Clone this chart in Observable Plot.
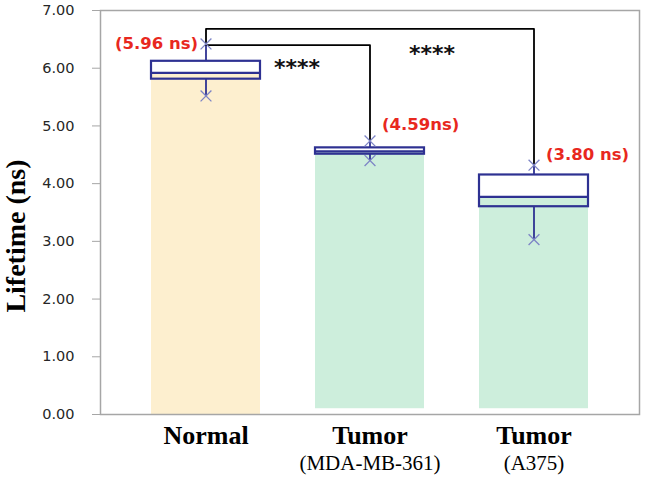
<!DOCTYPE html>
<html><head><meta charset="utf-8">
<script src="https://cdn.jsdelivr.net/npm/d3@7"></script>
<script src="https://cdn.jsdelivr.net/npm/@observablehq/plot@0.6"></script>
<style>body{margin:0;background:#fff} #chart{width:645px;height:481px}</style>
</head><body><div id="chart"></div>
<script>
const categories = ["Normal", "Tumor (MDA-MB-361)", "Tumor (A375)"];
const mainLabels = ["Normal", "Tumor", "Tumor"];
const subLabels = ["", "(MDA-MB-361)", "(A375)"];
const means = [5.96, 4.59, 3.80];
const meanLabels = ["(5.96 ns)", "(4.59ns)", "(3.80 ns)"];
const barBase = [0, 0.1, 0.1];
const q1 = [5.81, 4.51, 3.60];
const medians = [5.92, 4.56, 3.77];
const q3 = [6.12, 4.62, 4.15];
const whiskerMin = [5.52, 4.40, 3.03];
const whiskerMax = [6.42, 4.74, 4.32];
const barColors = ["#fdefcf", "#cdeedc", "#cdeedc"];
const yTicks = [0, 1, 2, 3, 4, 5, 6, 7];
const comparisons = [
  {from: 0, to: 1, level: 6.40, sig: "****"},
  {from: 0, to: 2, level: 6.68, sig: "****"}
];

const rows = categories.map((c, i) => ({
  cat: c, main: mainLabels[i], sub: subLabels[i], mean: means[i], meanLabel: meanLabels[i],
  base: barBase[i], q1: q1[i], median: medians[i], q3: q3[i],
  min: whiskerMin[i], max: whiskerMax[i], color: barColors[i]
}));
const markers = rows.flatMap(r => [{cat: r.cat, v: r.min}, {cat: r.cat, v: r.max}]);
const bracketPts = comparisons.flatMap((c, k) => [
  {id: k, cat: categories[c.from], v: k === 0 ? whiskerMax[c.from] : comparisons[0].level},
  {id: k, cat: categories[c.from], v: c.level},
  {id: k, cat: categories[c.to], v: c.level},
  {id: k, cat: categories[c.to], v: whiskerMax[c.to]}
]);
const starRows = comparisons.map(c => ({cat: categories[c.to], v: c.level, sig: c.sig}));

const navy = "#2e3192";
const redText = {fontFamily: "DejaVu Sans", fontWeight: "bold", fontSize: 16.5, fill: "#e8281e"};
const starText = {fontFamily: "DejaVu Sans", fontWeight: "bold", fontSize: 22, fill: "#111"};
const plot = Plot.plot({
  width: 645, height: 481,
  marginLeft: 100, marginRight: 6, marginTop: 10, marginBottom: 67,
  x: {domain: categories, paddingInner: 0.337, paddingOuter: 0.307, axis: null},
  y: {domain: [0, 7], axis: null},
  marks: [
    Plot.barY(rows, {x: "cat", y1: "base", y2: "mean", fill: "color"}),
    Plot.frame({stroke: "#a6a6a6", strokeWidth: 1.5}),
    Plot.axisY({ticks: yTicks, tickFormat: d3.format(".2f"), tickSize: 8, tickPadding: 18,
      stroke: "#a6a6a6", fill: "#262626", fontSize: 14.5, fontFamily: "DejaVu Sans", label: null}),
    Plot.barY(rows, {x: "cat", y1: "median", y2: "q3", fill: "white"}),
    Plot.ruleX(rows, {x: "cat", y1: "q3", y2: "max", stroke: navy, strokeWidth: 1.8}),
    Plot.ruleX(rows, {x: "cat", y1: "q1", y2: "min", stroke: navy, strokeWidth: 1.8}),
    Plot.barY(rows, {x: "cat", y1: "q1", y2: "q3", fill: "none", stroke: navy, strokeWidth: 2.2}),
    Plot.tickY(rows, {x: "cat", y: "median", stroke: navy, strokeWidth: 2.2}),
    Plot.line(bracketPts, {x: "cat", y: "v", z: "id", stroke: "black", strokeWidth: 1.8}),
    Plot.dot(markers, {x: "cat", y: "v", symbol: "times", r: 5, stroke: "#7d84c6", strokeWidth: 1.3}),
    Plot.text(starRows.slice(0, 1), {x: "cat", y: "v", text: "sig", dx: -73, dy: 23, ...starText}),
    Plot.text(starRows.slice(1), {x: "cat", y: "v", text: "sig", dx: -102, dy: 25, ...starText}),
    Plot.text(rows.slice(0, 1), {x: "cat", y: "max", text: "meanLabel", textAnchor: "end", dx: -8, dy: 0, ...redText}),
    Plot.text(rows.slice(1, 2), {x: "cat", y: "max", text: "meanLabel", textAnchor: "start", dx: 12, dy: -16, ...redText}),
    Plot.text(rows.slice(2), {x: "cat", y: "max", text: "meanLabel", textAnchor: "start", dx: 12, dy: -10, ...redText}),
    Plot.text(rows, {x: "cat", text: "main", frameAnchor: "bottom", lineAnchor: "bottom", dy: 29,
      fontFamily: "Liberation Serif", fontWeight: "bold", fontSize: 26, fill: "#000"}),
    Plot.text(rows, {x: "cat", text: "sub", frameAnchor: "bottom", lineAnchor: "bottom", dy: 55,
      fontFamily: "Liberation Serif", fontSize: 21, fill: "#000"})
  ]
});
const svg = d3.select(plot);
svg.append("text")
  .attr("transform", "translate(25,236) rotate(-90)")
  .attr("text-anchor", "middle")
  .attr("font-family", "Liberation Serif")
  .attr("font-weight", "bold")
  .attr("font-size", 28)
  .attr("fill", "#000")
  .text("Lifetime (ns)");
document.getElementById("chart").appendChild(plot);
</script>
</body></html>
